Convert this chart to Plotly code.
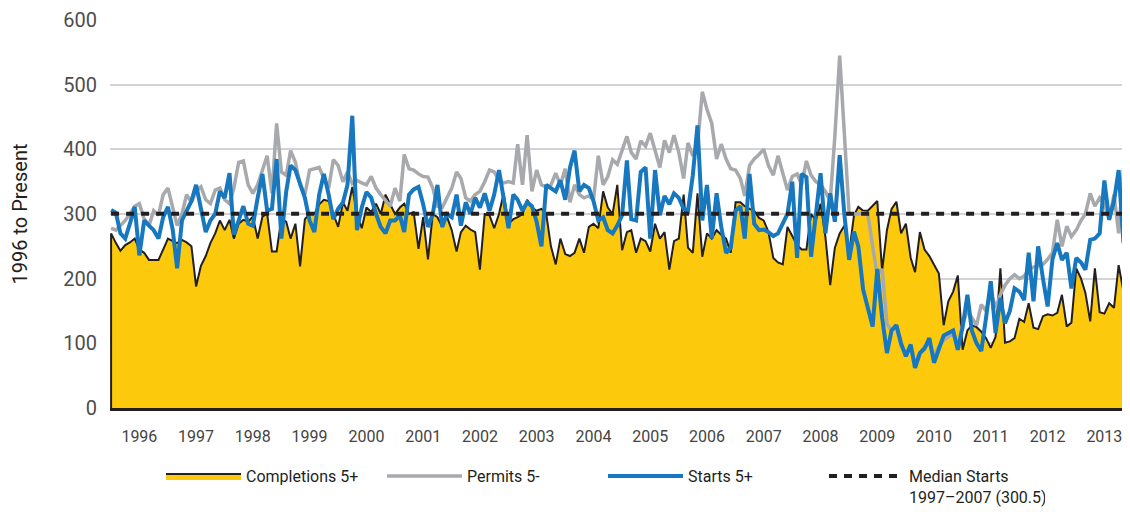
import pandas as pd
import plotly.graph_objects as go

# ---------------- data (thousands of units, monthly, Jan 1996 onward) ----------------
start_month = "1996-01-01"

completions = [
    270, 255, 243, 252, 256, 262, 245, 240, 229, 229, 229, 245, 262, 258, 255, 260, 256, 250, 188, 220, 235, 255,
    270, 290, 275, 291, 262, 285, 291, 288, 296, 262, 296, 301, 242, 242, 293, 288, 262, 285, 219, 292, 300,
    300, 315, 322, 320, 300, 280, 318, 305, 342, 300, 278, 310, 303, 316, 300, 330, 315, 300, 310, 316, 300,
    303, 246, 295, 230, 300, 295, 280, 296, 275, 242, 272, 282, 276, 272, 214, 300, 298, 278, 300, 332, 285,
    292, 295, 300, 322, 310, 305, 308, 300, 250, 222, 262, 238, 235, 240, 262, 240, 280, 285, 278, 335, 310,
    300, 345, 244, 272, 275, 240, 262, 258, 242, 285, 262, 272, 214, 258, 262, 330, 248, 240, 332, 234, 270,
    262, 275, 268, 262, 240, 318, 318, 312, 308, 305, 294, 290, 272, 232, 225, 222, 280, 265, 252, 245, 245,
    300, 290, 316, 265, 190, 248, 270, 282, 240, 298, 311, 305, 305, 312, 320, 212, 275, 308, 319, 270, 285,
    232, 210, 272, 245, 235, 222, 208, 128, 165, 180, 205, 90, 120, 128, 125, 118, 108, 93, 110, 216, 101,
    103, 108, 138, 133, 162, 124, 122, 142, 145, 143, 147, 175, 126, 132, 216, 200, 178, 134, 216, 148, 146,
    162, 155, 221, 180, 145,
]

starts = [
    306, 302, 270, 262, 285, 311, 236, 290, 282, 275, 262, 295, 311, 275, 216, 290, 305, 320, 345, 310, 272, 290,
    300, 335, 325, 363, 268, 290, 312, 285, 282, 325, 362, 305, 308, 385, 262, 335, 375, 368, 345, 325, 290,
    272, 330, 362, 330, 292, 308, 318, 345, 452, 275, 310, 334, 325, 300, 280, 270, 290, 290, 298, 272, 330,
    338, 342, 315, 280, 300, 345, 280, 300, 295, 330, 282, 318, 300, 325, 310, 332, 305, 330, 368, 325, 278,
    330, 322, 305, 318, 312, 288, 250, 345, 340, 335, 352, 322, 372, 398, 335, 345, 340, 320, 290, 295, 275,
    270, 282, 298, 383, 292, 290, 365, 372, 262, 368, 298, 328, 315, 332, 325, 308, 305, 360, 437, 290, 345,
    262, 332, 280, 240, 248, 305, 312, 262, 362, 285, 275, 276, 272, 266, 270, 285, 300, 350, 232, 362, 357,
    234, 300, 363, 270, 332, 288, 391, 300, 229, 273, 250, 183, 157, 126, 215, 140, 85, 120, 128, 100, 80,
    98, 62, 85, 92, 108, 70, 92, 112, 116, 120, 90, 125, 175, 120, 100, 88, 140, 196, 116, 170, 131,
    150, 185, 180, 167, 240, 165, 250, 200, 157, 230, 255, 229, 240, 185, 232, 225, 214, 260, 262, 270, 352,
    291, 320, 368, 255, 320,
]

permits = [
    278, 275, 282, 290, 300, 312, 316, 292, 282, 305, 298, 330, 340, 308, 282, 300, 330, 318, 335, 342, 322, 316,
    337, 340, 322, 316, 340, 380, 382, 345, 332, 345, 370, 390, 332, 440, 365, 360, 398, 380, 345, 330, 368,
    370, 372, 355, 340, 384, 375, 350, 365, 347, 352, 348, 345, 358, 340, 330, 320, 312, 340, 320, 392, 370,
    368, 362, 358, 357, 340, 312, 310, 325, 340, 365, 355, 325, 320, 330, 335, 350, 368, 365, 352, 348, 350,
    348, 408, 345, 422, 335, 368, 345, 342, 345, 363, 345, 370, 318, 345, 330, 325, 328, 322, 390, 345, 358,
    384, 377, 398, 420, 395, 385, 413, 405, 425, 400, 372, 414, 395, 422, 395, 355, 410, 390, 405, 489, 462,
    440, 385, 408, 385, 370, 368, 355, 328, 375, 385, 392, 400, 375, 360, 390, 365, 337, 358, 362, 345, 382,
    360, 350, 345, 335, 320, 420, 545, 420, 300, 300, 300, 302, 300, 250, 205, 215, 130, 120, 125, 95, 85,
    90, 70, 85, 95, 100, 80, 95, 105, 110, 115, 95, 130, 150, 140, 128, 160, 150, 180, 155, 175, 190,
    200, 206, 200, 204, 214, 218, 220, 222, 230, 240, 291, 250, 281, 265, 275, 290, 300, 332, 312, 325, 315,
    291, 330, 270, 370, 345,
]

median_starts = 300.5
year_labels = [str(y) for y in range(1996, 2014)]
y_ticks = [0, 100, 200, 300, 400, 500, 600]

# ---------------- figure ----------------
dates = pd.date_range(start_month, periods=len(completions), freq="MS")
mid_year = [pd.Timestamp(f"{y}-07-01") for y in year_labels]

YELLOW = "#FDC90D"
BLACK = "#231F20"
GRAY = "#A7A9AC"
BLUE = "#1777BF"

fig = go.Figure()

# completions area (leading zero closes the left edge of the outline)
fig.add_trace(go.Scatter(
    x=[dates[0]] + list(dates), y=[0] + completions,
    mode="lines", fill="tozeroy", fillcolor=YELLOW,
    line=dict(color=BLACK, width=2), name="Completions 5+",
))
fig.add_trace(go.Scatter(
    x=dates, y=permits, mode="lines",
    line=dict(color=GRAY, width=3.5), name="Permits 5-",
))
fig.add_trace(go.Scatter(
    x=dates, y=starts, mode="lines",
    line=dict(color=BLUE, width=4), name="Starts 5+",
))
fig.add_trace(go.Scatter(
    x=[dates[0], dates[-1]], y=[median_starts, median_starts], mode="lines",
    line=dict(color=BLACK, width=4, dash="8px,7px"),
    name="Median Starts<br>1997\u20132007 (300.5)",
))

# the page body has an 8px default margin, so the figure is sized to fit the window
fig.update_layout(
    width=1122, height=504,
    margin=dict(l=102, r=0, t=12, b=104, autoexpand=False),
    paper_bgcolor="white", plot_bgcolor="white",
    font=dict(family="Roboto, Lato, sans-serif", color="#333333"),
    showlegend=True,
    legend=dict(
        orientation="h", x=0.05, xanchor="left", y=-0.132, yanchor="top",
        valign="top", font=dict(size=16, color="#231F20"),
        itemwidth=75, entrywidth=131, entrywidthmode="pixels",
        traceorder="normal",
    ),
    xaxis=dict(
        type="date", automargin=False,
        range=["1995-12-25", "2013-12-13"],
        tickmode="array", tickvals=mid_year, ticktext=year_labels,
        showgrid=False, zeroline=False,
        showline=True, linecolor=BLACK, linewidth=3,
        ticks="", tickfont=dict(size=16, color="#444444"),
        ticklabelstandoff=12,
    ),
    yaxis=dict(
        range=[0, 600], tickmode="array", tickvals=y_ticks, automargin=False,
        showgrid=True, gridcolor="#D1D3D4", gridwidth=1.5,
        zeroline=False, showline=False, ticks="",
        tickfont=dict(size=20, color="#4D4D4D"),
        ticklabelstandoff=12,
        title=dict(text="1996 to Present", font=dict(size=20, color="#231F20"), standoff=36),
    ),
)

fig.write_html("out.html")
